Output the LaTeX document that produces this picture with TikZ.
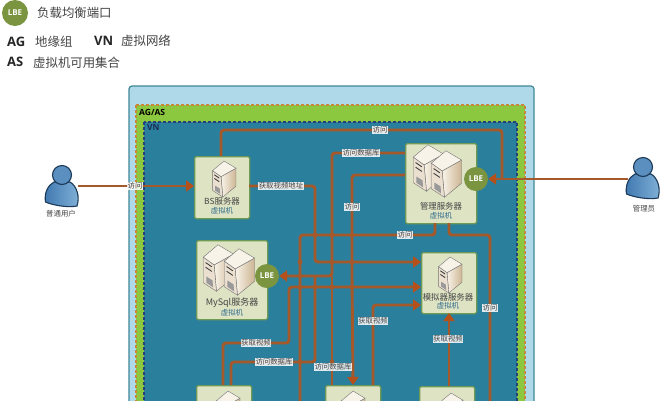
\documentclass[tikz,border=0pt]{standalone}
\usepackage{fontspec}
\setmainfont{Noto Sans CJK SC}
\newfontfamily\latf{Open Sans}
\usetikzlibrary{arrows.meta}
\definecolor{skyb}{HTML}{AFD8E8}
\definecolor{skyl}{HTML}{3F8797}
\definecolor{agfill}{HTML}{8CC83F}
\definecolor{agline}{HTML}{C8873A}
\definecolor{vnfill}{HTML}{2A7F9C}
\definecolor{vnline}{HTML}{27407A}
\definecolor{boxf}{HTML}{DDE3C3}
\definecolor{boxl}{HTML}{6F9A55}
\definecolor{conn}{HTML}{A5582A}
\definecolor{head}{HTML}{B5501A}
\definecolor{lbef}{HTML}{7A9440}
\definecolor{txt}{HTML}{444444}
\definecolor{vmt}{HTML}{2F6A8C}
\definecolor{creamA}{HTML}{F8F3E8}
\definecolor{creamB}{HTML}{CDB594}
\definecolor{perA}{HTML}{3F78B0}
\definecolor{perB}{HTML}{82B2D8}
\definecolor{perL}{HTML}{1C3A58}
\tikzset{
 x=1pt,y=-1pt,
 vmbox/.style={draw=boxl,line width=1.3pt,fill=boxf,rounded corners=1.5pt,inner sep=0pt,anchor=north west},
 lbe/.style={circle,fill=lbef,minimum size=24pt,inner sep=0pt,text=white,font=\latf\bfseries\fontsize{8}{9}\selectfont},
 wire/.style={draw=conn,line width=2.9pt,rounded corners=3pt},
 awire/.style={wire,-{Triangle[length=8pt,width=11pt,color=head]}},
 clab/.style={fill=white,fill opacity=.85,text opacity=1,inner sep=.4pt,text=txt,font=\fontsize{7.4}{8}\selectfont},
 nm/.style={inner sep=0pt,text=txt,font=\fontsize{8.4}{9}\selectfont},
 vm/.style={inner sep=0pt,text=vmt,font=\fontsize{7.4}{8}\selectfont},
 leg/.style={inner sep=0pt,anchor=west,text=txt,font=\fontsize{12.4}{13}\selectfont},
 legb/.style={inner sep=0pt,anchor=west,text=black!85,font=\latf\bfseries\fontsize{13}{14}\selectfont},
 towerpic/.pic={
  \path[draw=black!55,line width=.4pt,left color=creamA,right color=creamB]
    (-2.5,-2)--(10,-9)--(10,6)--(-1,15)--cycle;
  \path[draw=black!55,line width=.4pt,fill=creamA!70!creamB] (-9.5,-7)--(-2.5,-2)--(-1,15)--(-9.5,9.5)--cycle;
  \path[draw=black!55,line width=.4pt,fill=creamA] (-9.5,-7)--(0,-15)--(10,-9)--(-2.5,-2)--cycle;
  \path[draw=black!75,line width=.9pt] (-8,-3.5)--(-4,-.8) (-8,-.5)--(-4,2.2);
  \path[fill=black!40] (-7.5,5.5)--(-3.5,8)--(-3.2,12.5)--(-7.5,9.5)--cycle;
 },
 personpic/.pic={
  \path[draw=perL,line width=1.1pt,left color=perA,right color=perB]
   (-8,7) .. controls (-14,10) and (-18,18) .. (-16.5,27) .. controls (-10,30) and (6,33) .. (15,31)
   .. controls (18,22) and (15,11) .. (8,7) -- cycle;
  \path[draw=perL,line width=1.1pt,fill=perA!60!perB] (0,0) circle (9.5);
 }
}
\begin{document}
\begin{tikzpicture}
\useasboundingbox (0,0) rectangle (661,400);
\clip (0,0) rectangle (661,400);
\fill[white] (0,0) rectangle (661,400);
% legend
\node[lbe,minimum size=26pt] (legl) at (15,13) {LBE};
\node[leg] (legt) at (37,13) {负载均衡端口};
\node[legb] (lag) at (7,42) {AG};
\node[leg] (lagt) at (35,42) {地缘组};
\node[legb] (lvn) at (94,41) {VN};
\node[leg] (lvnt) at (121,41) {虚拟网络};
\node[legb] (las) at (7,62) {AS};
\node[leg] (last) at (33,63) {虚拟机可用集合};
% nested regions
\draw[skyl,line width=1.2pt,fill=skyb,rounded corners=3pt] (129,86) rectangle (534,420);
\draw[agline,line width=1.2pt,densely dashed,fill=agfill] (136,105) rectangle (525,420);
\draw[vnline,line width=1.2pt,densely dashed,fill=vnfill] (144,122) rectangle (517,420);
\node[inner sep=0pt,anchor=west,text=black,font=\latf\bfseries\fontsize{8.5}{9}\selectfont] (tag) at (139,112) {AG/AS};
\node[inner sep=0pt,anchor=west,text=vnline!70!black,font=\latf\bfseries\fontsize{8.5}{9}\selectfont] (tvn) at (147,127.5) {VN};
% boxes
\node[vmbox,minimum width=55pt,minimum height=62pt] (bs) at (194,156) {};
\node[vmbox,minimum width=71pt,minimum height=80pt] (mg) at (405,143) {};
\node[vmbox,minimum width=71pt,minimum height=79pt] (my) at (196,240) {};
\node[vmbox,minimum width=55pt,minimum height=61pt] (si) at (421,252) {};
\node[vmbox,minimum width=55pt,minimum height=60pt] (b1) at (196,385) {};
\node[vmbox,minimum width=55pt,minimum height=60pt] (b2) at (325,385) {};
\node[vmbox,minimum width=55pt,minimum height=60pt] (b3) at (419,386) {};
% icons
\pic[scale=1.2] at (224,179) {towerpic};
\pic[scale=1.55] at (428,168) {towerpic};
\pic[scale=1.55] at (446,174) {towerpic};
\pic[scale=1.55] at (218,268) {towerpic};
\pic[scale=1.55] at (239,272) {towerpic};
\pic[scale=1.2] at (450,275) {towerpic};
\pic[scale=1.2] at (228,409) {towerpic};
\pic[scale=1.2] at (353,409) {towerpic};
\pic[scale=1.2] at (451,411) {towerpic};
\pic at (62,175) {personpic};
\pic at (643,167) {personpic};
% names
\node[nm] (n1) at (222,201) {BS服务器};
\node[vm] (v1) at (222,211) {虚拟机};
\node[nm] (n2) at (441,206) {管理服务器};
\node[vm] (v2) at (441,216) {虚拟机};
\node[nm,font=\fontsize{9}{10}\selectfont] (n3) at (232,303) {MySql服务器};
\node[vm] (v3) at (232,313) {虚拟机};
\node[nm] (n4) at (448,297) {模拟器服务器};
\node[vm] (v4) at (448,306) {虚拟机};
\node[inner sep=0pt,text=txt,font=\fontsize{7.4}{8}\selectfont] (u1) at (61,214) {普通用户};
\node[inner sep=0pt,text=txt,font=\fontsize{7.4}{8}\selectfont] (u2) at (644,209) {管理员};
% ports
\coordinate (user) at (78,186);
\coordinate (admin) at (628,179);
\coordinate (mgA) at (405,153);
\coordinate (mgB) at (405,175);
\coordinate (mgC) at (435,223);
\coordinate (mgD) at (449,223);
\coordinate (siA) at (421,262);
\coordinate (siB) at (421,287);
\coordinate (siC) at (421,305);
\coordinate (siD) at (449,313);
\coordinate (b1A) at (223,385);
\coordinate (b1B) at (231,385);
\coordinate (b2A) at (332,385);
\coordinate (b2B) at (353,385);
\coordinate (b2C) at (373,385);
\coordinate (b2D) at (300,402);
\coordinate (b3A) at (449,386);
\coordinate (b3B) at (490,402);
\coordinate (bsL) at (194,186);
\coordinate (bsR) at (249,186);
\coordinate (bsT) at (221,156);
\coordinate (myJ) at (315,276);
% LBE nodes
\node[lbe] (lb1) at (476,179) {LBE};
\node[lbe] (lb2) at (267,276) {LBE};
% connectors
\draw[awire] (user) -- (bsL);
\draw[awire] (admin) -- (lb1.east);
\draw[wire] (bsT) -- (221,130) -- (502,130) -- (502,179);
\draw[awire] (bsR) -- (315,186) -- (315,262) -- (siA);
\draw[awire] (mgA) -- (332,153) -- (332,276) -- (lb2.east);
\draw[wire] (b2A) -- (332,276);
\draw[wire] (b1B) -- (231,362) -- (315,362) -- (myJ);
\draw[awire] (mgB) -- (352,175) -- (352,275) -- (b2B);
\draw[wire] (mgC) -- (435,235) -- (300,235) -- (b2D);
\draw[wire] (mgD) -- (449,235) -- (490,235) -- (b3B);
\draw[awire] (b1A) -- (223,343) -- (289,343) -- (289,287) -- (siB);
\draw[awire] (b2C) -- (373,305) -- (siC);
\draw[awire] (b3A) -- (siD);
% crossing dots
\foreach \px/\py in {315/235,332/235,352/235,332/262,352/262,300/262,315/287,332/287,352/287,300/287,300/362,332/362,300/276}
  \fill[conn] (\px,\py) circle (2.4);
% connector labels
\node[clab] (l1) at (135,186) {访问};
\node[clab] (l2) at (380,130) {访问};
\node[clab] (l3) at (281,186) {获取视频地址};
\node[clab] (l4) at (361,153) {访问数据库};
\node[clab] (l5) at (352,207) {访问};
\node[clab] (l6) at (405,235) {访问};
\node[clab] (l7) at (490,308) {访问};
\node[clab] (l8) at (256,343) {获取视频};
\node[clab] (l9) at (274,362) {访问数据库};
\node[clab] (l10) at (333,367) {访问数据库};
\node[clab] (l11) at (373,321) {获取视频};
\node[clab] (l12) at (448,339) {获取视频};
\end{tikzpicture}
\end{document}
